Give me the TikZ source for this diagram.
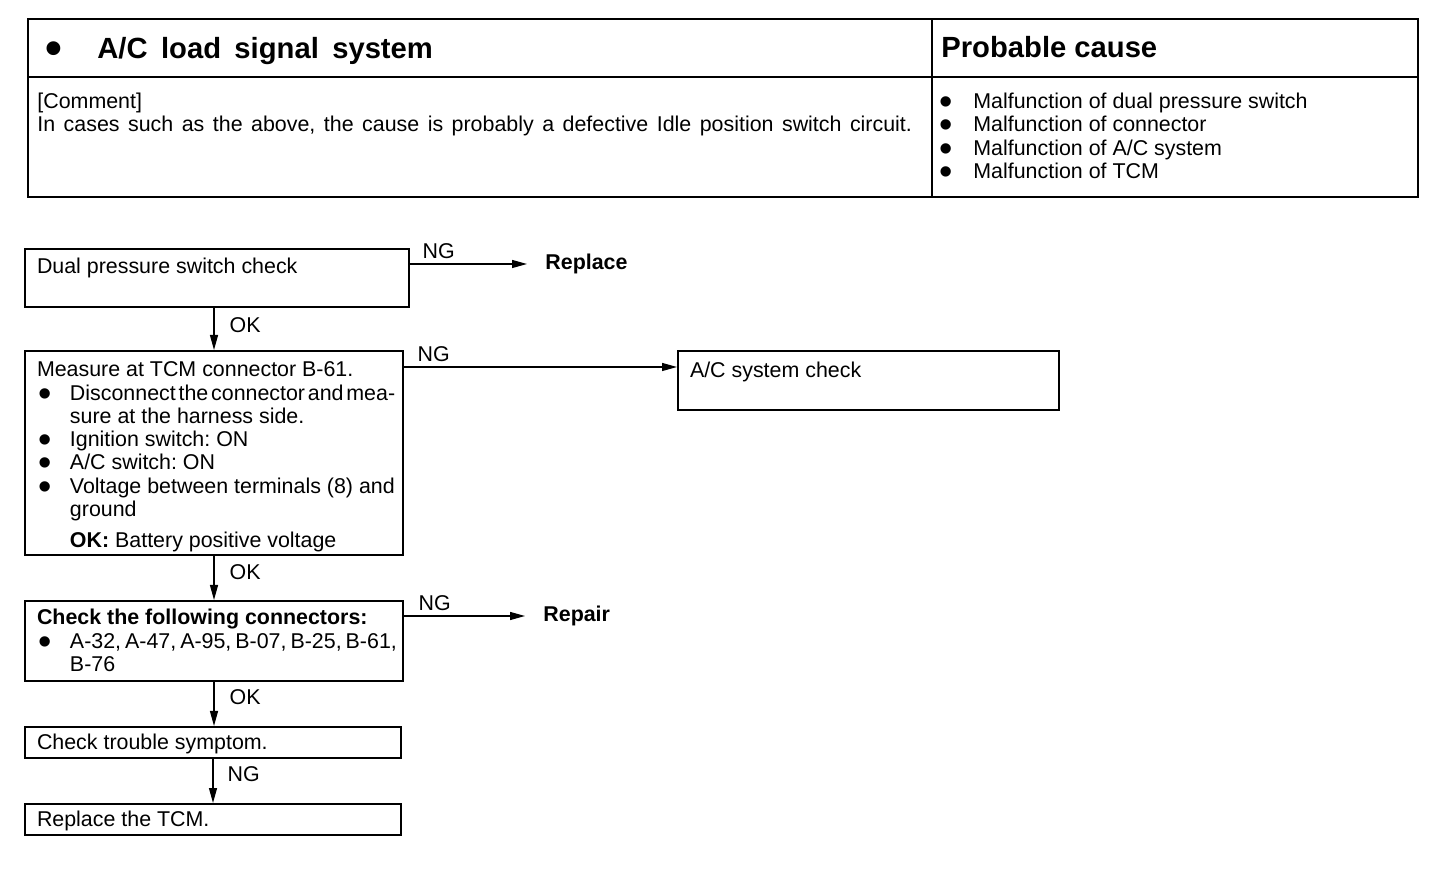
\documentclass[tikz,border=0pt]{standalone}
\usepackage{fontspec}
\setmainfont{Liberation Sans}
\usetikzlibrary{arrows.meta}

\frenchspacing
\newcommand\bodyfont{\fontsize{10.7}{11.65}\selectfont}
\newcommand\headfont{\fontsize{14.6}{16}\selectfont\bfseries}
\newcommand\dotmark{\raisebox{-3pt}[0pt][0pt]{\fontsize{19}{19}\selectfont\textbullet}}
\newcommand\bul{\makebox[16.5pt][l]{\hspace{0.8pt}\dotmark}}
\newcommand\fline[1]{\mbox{#1}\\}
\newcommand\boxtext[3]{\parbox[c][#2][t]{#1}{\strut#3}}

\tikzset{
  stepbox/.style={draw, line width=1pt, anchor=north west, inner xsep=6pt, font=\bodyfont},
  flow/.style={line width=0.6pt, -{Triangle[length=7.5pt,width=4pt]}},
  lab/.style={font=\bodyfont, inner sep=0pt},
  result/.style={font=\bodyfont\bfseries, anchor=west, inner xsep=9pt, inner ysep=0pt},
}

\begin{document}
\begin{tikzpicture}[x=0.5pt, y=-0.5pt]
    \useasboundingbox (0,0) rectangle (1456,886);

    % table
    \draw[line width=1pt] (28,19) rectangle (1418,197);
    \draw[line width=1pt] (28,77) -- (1418,77);
    \draw[line width=1pt] (932,19) -- (932,197);
    \node[anchor=base west, inner sep=0pt] (title) at (45,58.5)
        {\headfont\makebox[26pt][l]{\raisebox{-3.2pt}[0pt][0pt]{\fontsize{24}{24}\selectfont\textbullet}}{\spaceskip=6.7pt A/C load signal system}};
    \node[anchor=base west, inner sep=0pt] (probhead) at (941,57.5) {\headfont Probable cause};
    \node[anchor=base west, inner sep=0pt, font=\bodyfont] (comment) at (37,108.7)
        {\parbox[t]{445pt}{[Comment]\\{\spaceskip=4.25pt In cases such as the above, the cause is probably a defective Idle position switch circuit.}}};
    \node[anchor=base west, inner sep=0pt, font=\bodyfont] (causes) at (939,108.7)
        {\parbox[t]{235pt}{\makebox[17pt][l]{\dotmark}Malfunction of dual pressure switch\\
         \makebox[17pt][l]{\dotmark}Malfunction of connector\\
         \makebox[17pt][l]{\dotmark}Malfunction of A/C system\\
         \makebox[17pt][l]{\dotmark}Malfunction of TCM}};

    % flow chart boxes
    \node[stepbox, inner ysep=4.2pt] (dps) at (24,248)
        {\boxtext{180pt}{20.6pt}{Dual pressure switch check}};
    \node[stepbox, inner ysep=4.7pt] (tcm) at (24,350)
        {\boxtext{177pt}{92.6pt}{%
         \fline{Measure at TCM connector B-61.}
         \fline{\bul{\spaceskip=.13em plus .5em Disconnect the connector and mea-}}
         \fline{\hspace*{16.5pt}sure at the harness side.}
         \fline{\bul Ignition switch: ON}
         \fline{\bul A/C switch: ON}
         \fline{\bul Voltage between terminals (8) and}
         \mbox{\hspace*{16.5pt}ground}\\[3.9pt]
         \mbox{\hspace*{16.5pt}\textbf{OK:} Battery positive voltage}}};
    \node[stepbox, inner ysep=5.2pt] (acsys) at (677,350)
        {\boxtext{178.5pt}{19.1pt}{A/C system check}};
    \node[stepbox, inner ysep=3.7pt] (conn) at (24,600)
        {\boxtext{177pt}{32.6pt}{%
         \fline{\textbf{Check the following connectors:}}
         \fline{\bul{\spaceskip=2pt A-32, A-47, A-95, B-07, B-25, B-61,}}
         \mbox{\hspace*{16.5pt}B-76}}};
    \node[stepbox, inner ysep=3.2pt] (symp) at (24,726)
        {\boxtext{176pt}{9.1pt}{Check trouble symptom.}};
    \node[stepbox, inner ysep=3.2pt] (tcmrep) at (24,803)
        {\boxtext{176pt}{9.1pt}{Replace the TCM.}};

    % results
    \node[result] (replace) at (527,264) {Replace};
    \node[result] (repair) at (525,616) {Repair};
    \coordinate (acin) at ([yshift=-8.5pt]acsys.north west);

    % connectors
    \draw[flow] (dps.east |- replace.west) -- node[lab, pos=0, anchor=south west, xshift=6pt, yshift=2.5pt] {NG} (replace.west);
    \draw[flow] (tcm.east |- acin) -- node[lab, pos=0, anchor=south west, xshift=6.5pt, yshift=2.5pt] {NG} (acin);
    \draw[flow] (conn.east |- repair.west) -- node[lab, pos=0, anchor=south west, xshift=7pt, yshift=2.5pt] {NG} (repair.west);
    \draw[flow] (dps.south -| tcm.north) -- node[lab, pos=0.4, anchor=west, xshift=7.5pt] {OK} (tcm.north);
    \draw[flow] (tcm.south) -- node[lab, pos=0.37, anchor=west, xshift=7.5pt] {OK} (conn.north);
    \draw[flow] (conn.south) -- node[lab, pos=0.35, anchor=west, xshift=7.5pt] {OK} (symp.north -| conn.south);
    \draw[flow] (symp.south) -- node[lab, pos=0.35, anchor=west, xshift=7pt] {NG} (tcmrep.north);
\end{tikzpicture}
\end{document}
